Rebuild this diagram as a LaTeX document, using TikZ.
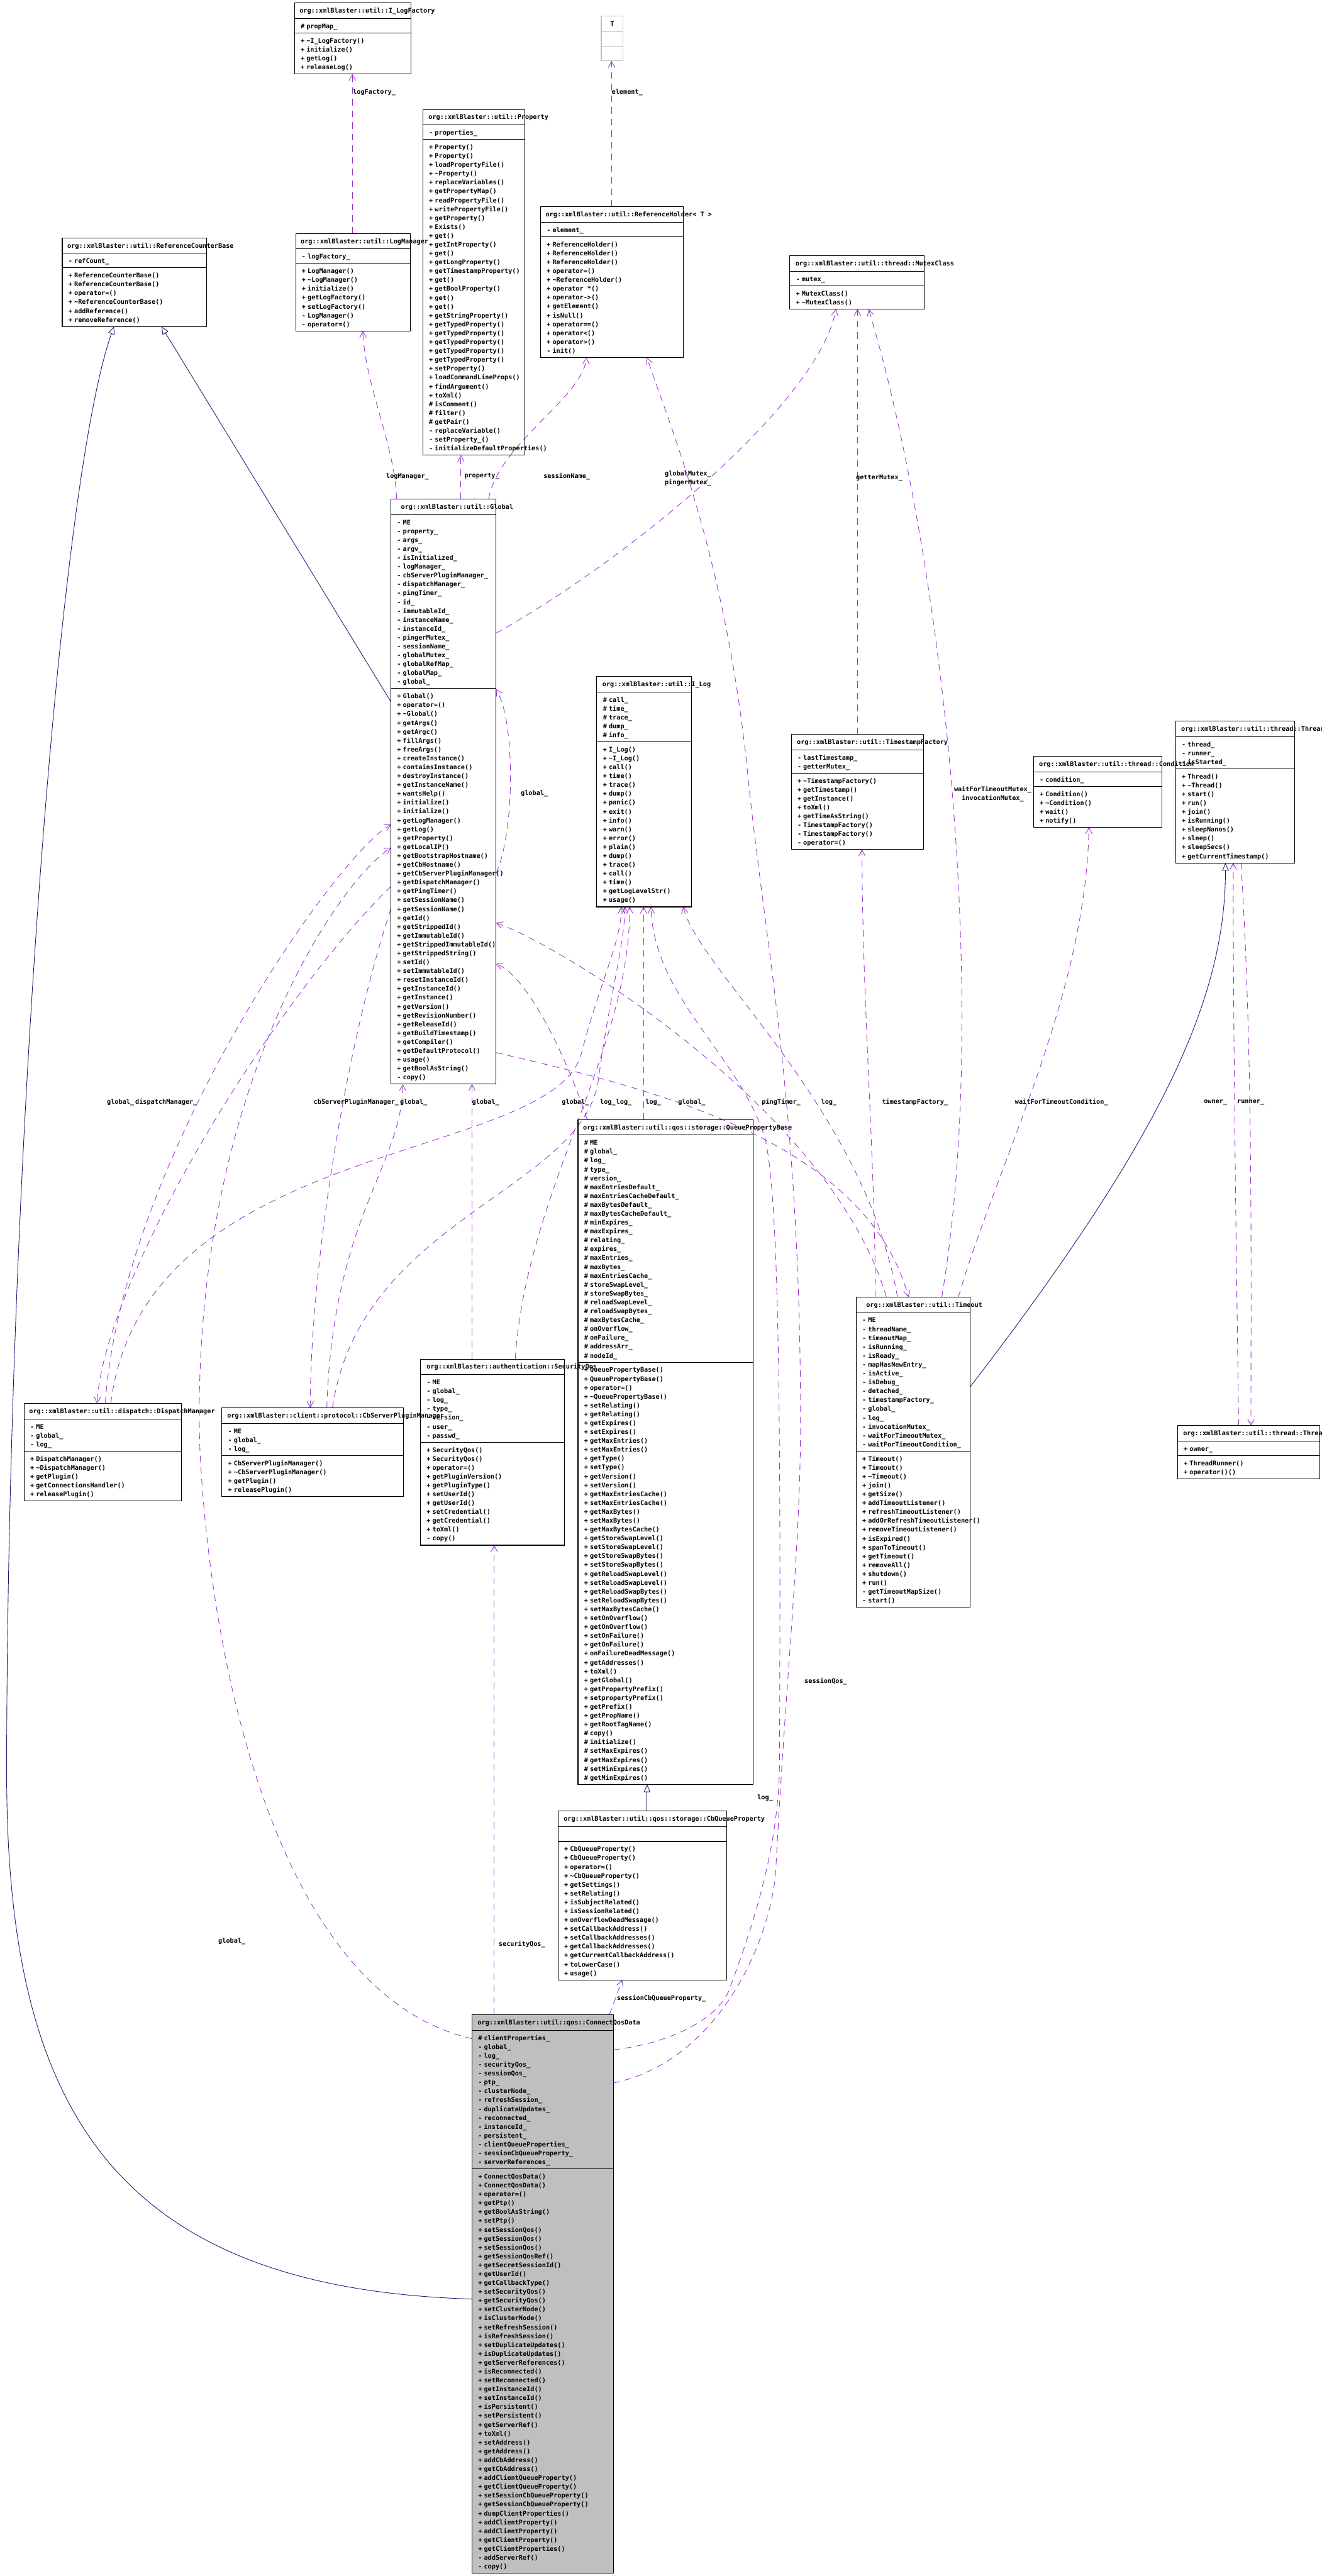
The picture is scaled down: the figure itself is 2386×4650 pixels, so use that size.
\documentclass[tikz,border=0pt]{standalone}
\usepackage{fontspec}
\setmonofont{DejaVu Sans Mono}[BoldFont=DejaVu Sans Mono Bold]
\usepackage{graphicx}
\usetikzlibrary{arrows.meta}
\definecolor{edgep}{HTML}{9A32CD}
\definecolor{inhb}{HTML}{191970}
\definecolor{boxg}{HTML}{BFBFBF}
\newcommand\umlfont{\ttfamily\bfseries\fontsize{11.6}{16}\selectfont}
\newcommand\tld{\textasciitilde}
\pgfdeclarelayer{edgelayer}
\pgfsetlayers{edgelayer,main}
\tikzset{
  umlbox/.style={draw=black,line width=1.2pt,inner sep=0pt,outer sep=0pt,anchor=north west},
  umlline/.style={draw=black,line width=1.2pt},
  umltext/.style={inner sep=0pt,anchor=base west,font=\umlfont},
  lbl/.style={inner sep=0pt,anchor=west,font=\umlfont},
  lblc/.style={inner sep=0pt,anchor=center,align=center,font=\umlfont},
  uses/.style={draw=edgep,line width=1pt,dash pattern=on 12pt off 9pt,-{Straight Barb[length=11pt,width=12pt]}},
  inherit/.style={draw=inhb,line width=1pt,-{Triangle[open,length=14pt,width=12pt]}},
}
\newcommand\umlclass[7]{%
  \pgfmathsetmacro\ux{#2}\pgfmathsetmacro\uy{#3}\pgfmathsetmacro\uw{#4}%
  \pgfmathsetmacro\ua{#3+28}%
  \pgfmathsetmacro\ub{\ua+(#5>0)*(16*#5+10)+(#5==0)*27}%
  \pgfmathsetmacro\uc{\ub+(#6>0)*(16*#6+10)+(#6==0)*26}%
  \pgfmathsetmacro\uh{\uc-#3}%
  \node[umlbox,#7,minimum width=\uw pt,minimum height=\uh pt] (#1) at (\ux,\uy) {};
  \draw[umlline,#7] (\ux,\ua) -- ++(\uw,0);
  \draw[umlline,#7] (\ux,\ub) -- ++(\uw,0);
}
\newcommand\umltitle[3]{\node[umltext] (#1-t) at (\ux+#2,\uy+18) {#3};}
\newcommand\umlattrs[2]{\node[umltext] (#1-a) at (\ux+11,\ua+18) {\begin{tabular}[t]{@{}l@{\hspace{3.5pt}}l@{}}#2\end{tabular}};}
\newcommand\umlmeths[2]{\node[umltext] (#1-m) at (\ux+11,\ub+18) {\begin{tabular}[t]{@{}l@{\hspace{3.5pt}}l@{}}#2\end{tabular}};}
\begin{document}
\catcode`\_=12
\begin{tikzpicture}[x=1pt,y=-1pt]
\useasboundingbox (0,0) rectangle (2386,4650);

% ---------- classes ----------
\umlclass{ILF}{531.5}{5.5}{210.2}{1}{4}{}
\umltitle{ILF}{9}{org::xmlBlaster::util::I_LogFactory}
\umlattrs{ILF}{\#&propMap_}
\umlmeths{ILF}{+&\tld I_LogFactory()\\+&initialize()\\+&getLog()\\+&releaseLog()}

\umlclass{T}{1085.3}{28.9}{39.4}{0}{0}{draw=boxg}
\node[umltext,anchor=base] (T-t) at (1105,46.9) {T};

\umlclass{PROP}{763.3}{197.6}{184}{1}{35}{}
\umltitle{PROP}{10}{org::xmlBlaster::util::Property}
\umlattrs{PROP}{-&properties_}
\umlmeths{PROP}{+&Property()\\+&Property()\\+&loadPropertyFile()\\+&\tld Property()\\+&replaceVariables()\\+&getPropertyMap()\\+&readPropertyFile()\\+&writePropertyFile()\\+&getProperty()\\+&Exists()\\+&get()\\+&getIntProperty()\\+&get()\\+&getLongProperty()\\+&getTimestampProperty()\\+&get()\\+&getBoolProperty()\\+&get()\\+&get()\\+&getStringProperty()\\+&getTypedProperty()\\+&getTypedProperty()\\+&getTypedProperty()\\+&getTypedProperty()\\+&getTypedProperty()\\+&setProperty()\\+&loadCommandLineProps()\\+&findArgument()\\+&toXml()\\\#&isComment()\\\#&filter()\\\#&getPair()\\-&replaceVariable()\\-&setProperty_()\\-&initializeDefaultProperties()}

\umlclass{RH}{975.7}{373.3}{257.6}{1}{13}{}
\umltitle{RH}{9}{org::xmlBlaster::util::ReferenceHolder< T >}
\umlattrs{RH}{-&element_}
\umlmeths{RH}{+&ReferenceHolder()\\+&ReferenceHolder()\\+&ReferenceHolder()\\+&operator=()\\+&\tld ReferenceHolder()\\+&operator *()\\+&operator->()\\+&getElement()\\+&isNull()\\+&operator==()\\+&operator<()\\+&operator>()\\-&init()}

\umlclass{RCB}{112.4}{429.4}{260}{1}{6}{}
\umltitle{RCB}{9}{org::xmlBlaster::util::ReferenceCounterBase}
\umlattrs{RCB}{-&refCount_}
\umlmeths{RCB}{+&ReferenceCounterBase()\\+&ReferenceCounterBase()\\+&operator=()\\+&\tld ReferenceCounterBase()\\+&addReference()\\+&removeReference()}

\umlclass{LM}{533.6}{421.5}{206.9}{1}{7}{}
\umltitle{LM}{9}{org::xmlBlaster::util::LogManager}
\umlattrs{LM}{-&logFactory_}
\umlmeths{LM}{+&LogManager()\\+&\tld LogManager()\\+&initialize()\\+&getLogFactory()\\+&setLogFactory()\\-&LogManager()\\-&operator=()}

\umlclass{MC}{1425.7}{462}{243}{1}{2}{}
\umltitle{MC}{10}{org::xmlBlaster::util::thread::MutexClass}
\umlattrs{MC}{-&mutex_}
\umlmeths{MC}{+&MutexClass()\\+&\tld MutexClass()}

\umlclass{GL}{705.7}{901}{189.6}{19}{44}{}
\umltitle{GL}{18}{org::xmlBlaster::util::Global}
\umlattrs{GL}{-&ME\\-&property_\\-&args_\\-&argv_\\-&isInitialized_\\-&logManager_\\-&cbServerPluginManager_\\-&dispatchManager_\\-&pingTimer_\\-&id_\\-&immutableId_\\-&instanceName_\\-&instanceId_\\-&pingerMutex_\\-&sessionName_\\-&globalMutex_\\-&globalRefMap_\\-&globalMap_\\-&global_}
\umlmeths{GL}{+&Global()\\+&operator=()\\+&\tld Global()\\+&getArgs()\\+&getArgc()\\+&fillArgs()\\+&freeArgs()\\+&createInstance()\\+&containsInstance()\\+&destroyInstance()\\+&getInstanceName()\\+&wantsHelp()\\+&initialize()\\+&initialize()\\+&getLogManager()\\+&getLog()\\+&getProperty()\\+&getLocalIP()\\+&getBootstrapHostname()\\+&getCbHostname()\\+&getCbServerPluginManager()\\+&getDispatchManager()\\+&getPingTimer()\\+&setSessionName()\\+&getSessionName()\\+&getId()\\+&getStrippedId()\\+&getImmutableId()\\+&getStrippedImmutableId()\\+&getStrippedString()\\+&setId()\\+&setImmutableId()\\+&resetInstanceId()\\+&getInstanceId()\\+&getInstance()\\+&getVersion()\\+&getRevisionNumber()\\+&getReleaseId()\\+&getBuildTimestamp()\\+&getCompiler()\\+&getDefaultProtocol()\\+&usage()\\+&getBoolAsString()\\-&copy()}

\umlclass{ILOG}{1077.3}{1221}{171}{5}{18}{}
\umltitle{ILOG}{10}{org::xmlBlaster::util::I_Log}
\umlattrs{ILOG}{\#&call_\\\#&time_\\\#&trace_\\\#&dump_\\\#&info_}
\umlmeths{ILOG}{+&I_Log()\\+&\tld I_Log()\\+&call()\\+&time()\\+&trace()\\+&dump()\\+&panic()\\+&exit()\\+&info()\\+&warn()\\+&error()\\+&plain()\\+&dump()\\+&trace()\\+&call()\\+&time()\\+&getLogLevelStr()\\+&usage()}

\umlclass{TF}{1428.3}{1325.5}{239}{2}{8}{}
\umltitle{TF}{10}{org::xmlBlaster::util::TimestampFactory}
\umlattrs{TF}{-&lastTimestamp_\\-&getterMutex_}
\umlmeths{TF}{+&\tld TimestampFactory()\\+&getTimestamp()\\+&getInstance()\\+&toXml()\\+&getTimeAsString()\\-&TimestampFactory()\\-&TimestampFactory()\\-&operator=()}

\umlclass{COND}{1865.4}{1365.3}{232.1}{1}{4}{}
\umltitle{COND}{10}{org::xmlBlaster::util::thread::Condition}
\umlattrs{COND}{-&condition_}
\umlmeths{COND}{+&Condition()\\+&\tld Condition()\\+&wait()\\+&notify()}

\umlclass{THR}{2122}{1301.7}{215}{3}{10}{}
\umltitle{THR}{10}{org::xmlBlaster::util::thread::Thread}
\umlattrs{THR}{-&thread_\\-&runner_\\-&isStarted_}
\umlmeths{THR}{+&Thread()\\+&\tld Thread()\\+&start()\\+&run()\\+&join()\\+&isRunning()\\+&sleepNanos()\\+&sleep()\\+&sleepSecs()\\+&getCurrentTimestamp()}

\umlclass{QPB}{1043.3}{2021}{316}{25}{47}{}
\umltitle{QPB}{9}{org::xmlBlaster::util::qos::storage::QueuePropertyBase}
\umlattrs{QPB}{\#&ME\\\#&global_\\\#&log_\\\#&type_\\\#&version_\\\#&maxEntriesDefault_\\\#&maxEntriesCacheDefault_\\\#&maxBytesDefault_\\\#&maxBytesCacheDefault_\\\#&minExpires_\\\#&maxExpires_\\\#&relating_\\\#&expires_\\\#&maxEntries_\\\#&maxBytes_\\\#&maxEntriesCache_\\\#&storeSwapLevel_\\\#&storeSwapBytes_\\\#&reloadSwapLevel_\\\#&reloadSwapBytes_\\\#&maxBytesCache_\\\#&onOverflow_\\\#&onFailure_\\\#&addressArr_\\\#&nodeId_}
\umlmeths{QPB}{+&QueuePropertyBase()\\+&QueuePropertyBase()\\+&operator=()\\+&\tld QueuePropertyBase()\\+&setRelating()\\+&getRelating()\\+&getExpires()\\+&setExpires()\\+&getMaxEntries()\\+&setMaxEntries()\\+&getType()\\+&setType()\\+&getVersion()\\+&setVersion()\\+&getMaxEntriesCache()\\+&setMaxEntriesCache()\\+&getMaxBytes()\\+&setMaxBytes()\\+&getMaxBytesCache()\\+&getStoreSwapLevel()\\+&setStoreSwapLevel()\\+&getStoreSwapBytes()\\+&setStoreSwapBytes()\\+&getReloadSwapLevel()\\+&setReloadSwapLevel()\\+&getReloadSwapBytes()\\+&setReloadSwapBytes()\\+&setMaxBytesCache()\\+&setOnOverflow()\\+&getOnOverflow()\\+&setOnFailure()\\+&getOnFailure()\\+&onFailureDeadMessage()\\+&getAddresses()\\+&toXml()\\+&getGlobal()\\+&getPropertyPrefix()\\+&setpropertyPrefix()\\+&getPrefix()\\+&getPropName()\\+&getRootTagName()\\\#&copy()\\\#&initialize()\\\#&setMaxExpires()\\\#&getMaxExpires()\\\#&setMinExpires()\\\#&getMinExpires()}

\umlclass{TO}{1545.4}{2341.4}{206.1}{15}{17}{}
\umltitle{TO}{18}{org::xmlBlaster::util::Timeout}
\umlattrs{TO}{-&ME\\-&threadName_\\-&timeoutMap_\\-&isRunning_\\-&isReady_\\-&mapHasNewEntry_\\-&isActive_\\-&isDebug_\\-&detached_\\-&timestampFactory_\\-&global_\\-&log_\\-&invocationMutex_\\-&waitForTimeoutMutex_\\-&waitForTimeoutCondition_}
\umlmeths{TO}{+&Timeout()\\+&Timeout()\\+&\tld Timeout()\\+&join()\\+&getSize()\\+&addTimeoutListener()\\+&refreshTimeoutListener()\\+&addOrRefreshTimeoutListener()\\+&removeTimeoutListener()\\+&isExpired()\\+&spanToTimeout()\\+&getTimeout()\\+&removeAll()\\+&shutdown()\\+&run()\\-&getTimeoutMapSize()\\-&start()}

\umlclass{TR}{2125.5}{2573.5}{256.5}{1}{2}{}
\umltitle{TR}{10}{org::xmlBlaster::util::thread::ThreadRunner}
\umlattrs{TR}{+&owner_}
\umlmeths{TR}{+&ThreadRunner()\\+&operator()()}

\umlclass{DM}{43.5}{2533.3}{283.7}{3}{5}{}
\umltitle{DM}{9}{org::xmlBlaster::util::dispatch::DispatchManager}
\umlattrs{DM}{-&ME\\-&global_\\-&log_}
\umlmeths{DM}{+&DispatchManager()\\+&\tld DispatchManager()\\+&getPlugin()\\+&getConnectionsHandler()\\+&releasePlugin()}

\umlclass{CSPM}{400.6}{2541.7}{328}{3}{4}{}
\umltitle{CSPM}{9.5}{org::xmlBlaster::client::protocol::CbServerPluginManager}
\umlattrs{CSPM}{-&ME\\-&global_\\-&log_}
\umlmeths{CSPM}{+&CbServerPluginManager()\\+&\tld CbServerPluginManager()\\+&getPlugin()\\+&releasePlugin()}

\umlclass{SQ}{759}{2453.3}{260.3}{7}{11}{}
\umltitle{SQ}{11}{org::xmlBlaster::authentication::SecurityQos}
\umlattrs{SQ}{-&ME\\-&global_\\-&log_\\-&type_\\-&version_\\-&user_\\-&passwd_}
\umlmeths{SQ}{+&SecurityQos()\\+&SecurityQos()\\+&operator=()\\+&getPluginVersion()\\+&getPluginType()\\+&setUserId()\\+&getUserId()\\+&setCredential()\\+&getCredential()\\+&toXml()\\-&copy()}

\umlclass{CBQP}{1007.3}{3269}{305}{0}{15}{}
\umltitle{CBQP}{10}{org::xmlBlaster::util::qos::storage::CbQueueProperty}
\umlmeths{CBQP}{+&CbQueueProperty()\\+&CbQueueProperty()\\+&operator=()\\+&\tld CbQueueProperty()\\+&getSettings()\\+&setRelating()\\+&isSubjectRelated()\\+&isSessionRelated()\\+&onOverflowDeadMessage()\\+&setCallbackAddress()\\+&setCallbackAddresses()\\+&getCallbackAddresses()\\+&getCurrentCallbackAddress()\\+&toLowerCase()\\+&usage()}

\umlclass{CQD}{852}{3637}{255}{15}{45}{fill=boxg}
\umltitle{CQD}{10}{org::xmlBlaster::util::qos::ConnectQosData}
\umlattrs{CQD}{\#&clientProperties_\\-&global_\\-&log_\\-&securityQos_\\-&sessionQos_\\-&ptp_\\-&clusterNode_\\-&refreshSession_\\-&duplicateUpdates_\\-&reconnected_\\-&instanceId_\\-&persistent_\\-&clientQueueProperties_\\-&sessionCbQueueProperty_\\-&serverReferences_}
\umlmeths{CQD}{+&ConnectQosData()\\+&ConnectQosData()\\+&operator=()\\+&getPtp()\\+&getBoolAsString()\\+&setPtp()\\+&setSessionQos()\\+&getSessionQos()\\+&setSessionQos()\\+&getSessionQosRef()\\+&getSecretSessionId()\\+&getUserId()\\+&getCallbackType()\\+&setSecurityQos()\\+&getSecurityQos()\\+&setClusterNode()\\+&isClusterNode()\\+&setRefreshSession()\\+&isRefreshSession()\\+&setDuplicateUpdates()\\+&isDuplicateUpdates()\\+&getServerReferences()\\+&isReconnected()\\+&setReconnected()\\+&getInstanceId()\\+&setInstanceId()\\+&isPersistent()\\+&setPersistent()\\+&getServerRef()\\+&toXml()\\+&setAddress()\\+&getAddress()\\+&addCbAddress()\\+&getCbAddress()\\+&addClientQueueProperty()\\+&getClientQueueProperty()\\+&setSessionCbQueueProperty()\\+&getSessionCbQueueProperty()\\+&dumpClientProperties()\\+&addClientProperty()\\+&addClientProperty()\\+&getClientProperty()\\+&getClientProperties()\\-&addServerRef()\\-&copy()}

% ---------- connectors ----------
\begin{pgfonlayer}{edgelayer}
\draw[uses] (LM.north -| 636,0) -- (ILF.south -| 636,0);
\node[lbl] (L1) at (637,167) {logFactory_};
\draw[uses] (RH.north -| 1104,0) -- (T.south -| 1104,0);
\node[lbl] (L2) at (1104,167) {element_};

\draw[inherit] (GL.west |- 0,1267) -- (RCB.south -| 291.5,0);
\draw[inherit] (CQD.west |- 0,4150) .. controls (200,4130) and (12,3800) .. (12,3200) .. controls (12,2200) and (100,890) .. (RCB.south -| 205.7,0);

\draw[uses] (GL.north -| 716,0) .. controls (712,800) and (660,700) .. (LM.south -| 654.7,0);
\node[lbl] (L3) at (697,860) {logManager_};
\draw[uses] (GL.north -| 832,0) -- (PROP.south -| 832,0);
\node[lbl] (L4) at (838,860) {property_};
\draw[uses] (GL.north -| 882,0) .. controls (900,800) and (1050,720) .. (RH.south -| 1059,0);
\node[lbl] (L5) at (981,860) {sessionName_};
\draw[uses] (GL.east |- 0,1143) .. controls (1150,1000) and (1480,720) .. (MC.south -| 1509,0);
\node[lblc] (L6) at (1242,864) {globalMutex_\\pingerMutex_};
\draw[uses] (TF.north -| 1547.7,0) -- (MC.south -| 1547.7,0);
\node[lbl] (L7) at (1545,862.5) {getterMutex_};
\draw[uses] (TO.north -| 1700,0) .. controls (1790,1800) and (1700,1000) .. (MC.south -| 1568,0);
\node[lblc] (L8) at (1792,1433) {waitForTimeoutMutex_\\invocationMutex_};
\draw[uses] (TO.north -| 1580,0) .. controls (1580,2100) and (1556,1800) .. (TF.south -| 1556,0);
\node[lbl] (L9) at (1592,1990) {timestampFactory_};
\draw[uses] (TO.north -| 1730,0) .. controls (1800,2100) and (1960,1800) .. (COND.south -| 1965.6,0);
\node[lbl] (L10) at (1832,1990) {waitForTimeoutCondition_};
\draw[inherit] (TO.east |- 0,2503) .. controls (2100,2050) and (2212,1800) .. (THR.south -| 2212,0);
\draw[uses] (THR.south -| 2240,0) .. controls (2262,1900) and (2258,2300) .. (TR.north -| 2258,0);
\draw[uses] (TR.north -| 2236,0) .. controls (2232,2300) and (2226,1900) .. (THR.south -| 2226,0);
\node[lbl] (L12a) at (2173,1990) {owner_};
\node[lbl] (L12b) at (2233,1990) {runner_};

\draw[uses] (GL.east |- 0,1900) .. controls (1150,1960) and (1560,2050) .. (TO.north -| 1640,0);
\node[lbl] (L13) at (1375,1990) {pingTimer_};
\draw[uses] (GL.west |- 0,1600) .. controls (500,1800) and (190,2300) .. (DM.north -| 175,0);
\node[lbl] (L14) at (244,1990) {dispatchManager_};
\draw[uses] (GL.west |- 0,1640) .. controls (620,1900) and (560,2300) .. (CSPM.north -| 560,0);
\node[lbl] (L15) at (566,1990) {cbServerPluginManager_};
\draw[uses] (GL.east |- 0,1577) .. controls (930,1500) and (930,1300) .. (GL.east |- 0,1244);
\node[lbl] (L16) at (940,1432) {global_};

\draw[uses] (DM.north -| 190,0) .. controls (220,2100) and (600,1550) .. (GL.west |- 0,1488);
\node[lbl] (L17) at (193,1990) {global_};
\draw[uses] (DM.north -| 200,0) .. controls (260,2050) and (1000,2100) .. (1050,1900) .. controls (1080,1780) and (1121.7,1700) .. (ILOG.south -| 1121.7,0);
\node[lbl] (L17b) at (1083,1990) {log_};
\draw[uses] (CSPM.north -| 590,0) .. controls (600,2200) and (727,2100) .. (GL.south -| 727,0);
\node[lbl] (L18) at (722,1990) {global_};
\draw[uses] (CSPM.north -| 600,0) .. controls (650,2200) and (1050,2150) .. (1080,1950) .. controls (1100,1800) and (1128,1700) .. (ILOG.south -| 1128,0);
\node[lbl] (L18b) at (1112,1990) {log_};
\draw[uses] (SQ.north -| 852,0) -- (GL.south -| 852,0);
\node[lbl] (L19) at (852,1990) {global_};
\draw[uses] (SQ.north -| 930,0) .. controls (950,2150) and (1136.7,1900) .. (ILOG.south -| 1136.7,0);
\draw[uses] (QPB.north -| 1060,0) .. controls (1020,1900) and (950,1760) .. (GL.east |- 0,1740);
\node[lbl] (L20) at (1014,1990) {global_};
\draw[uses] (QPB.north -| 1161.7,0) -- (ILOG.south -| 1161.7,0);
\node[lbl] (L20b) at (1165,1990) {log_};
\draw[uses] (TO.north -| 1600,0) .. controls (1500,2000) and (1000,1700) .. (GL.east |- 0,1666);
\node[lbl] (L21) at (1224,1990) {global_};
\draw[uses] (TO.north -| 1620,0) .. controls (1560,2000) and (1260,1750) .. (ILOG.south -| 1233.3,0);
\node[lbl] (L21b) at (1482,1990) {log_};

\draw[uses] (CQD.north -| 892,0) -- (SQ.south -| 892,0);
\node[lbl] (L22) at (900,3510) {securityQos_};
\draw[uses] (CQD.north -| 1100,0) -- (CBQP.south -| 1123,0);
\node[lbl] (L23) at (1113.3,3607) {sessionCbQueueProperty_};
\draw[uses] (CQD.east |- 0,3700) .. controls (1200,3690) and (1290,3650) .. (1315,3595) .. controls (1350,3500) and (1405,3350) .. (1407,3187) .. controls (1410,2500) and (1405,2150) .. (1380,2051) .. controls (1330,1900) and (1180,1800) .. (ILOG.south -| 1175,0);
\node[lbl] (L25) at (1367,3245) {log_};
\draw[uses] (CQD.east |- 0,3760) .. controls (1300,3720) and (1390,3500) .. (1400,3382) .. controls (1420,3000) and (1445,2800) .. (1445,2563) .. controls (1445,2000) and (1380,1700) .. (1350,1400) .. controls (1310,1000) and (1205,760) .. (RH.south -| 1168,0);
\node[lbl] (L24) at (1452,3035) {sessionQos_};
\draw[uses] (CQD.west |- 0,3680) .. controls (500,3600) and (380,3000) .. (361,2620) .. controls (340,2000) and (600,1600) .. (GL.west |- 0,1530);
\node[lbl] (L26) at (394,3504) {global_};
\draw[inherit] (CBQP.north -| 1168,0) -- (QPB.south -| 1168,0);
\end{pgfonlayer}
\end{tikzpicture}
\end{document}
